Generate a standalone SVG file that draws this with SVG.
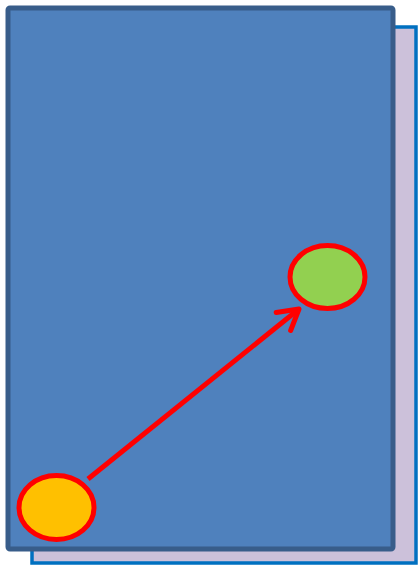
<svg xmlns="http://www.w3.org/2000/svg" width="418" height="566" viewBox="0 0 418 566">
<style>
.node-ellipse{stroke:#FF0000;stroke-width:5}
.conn{stroke:#FF0000;stroke-width:5;fill:none}
</style>
<defs>
<marker id="arrow" markerUnits="userSpaceOnUse" orient="auto" refX="0" refY="0" markerWidth="40" markerHeight="40" viewBox="-30 -20 40 40" overflow="visible">
<path d="M-20,-11.5 L0,0 L-20,11.5" fill="none" stroke="#FF0000" stroke-width="5" stroke-linecap="round" stroke-linejoin="round"/>
</marker>
</defs>
<g id="back-page">
<rect x="32" y="27" width="384" height="536" fill="#CCC1DA" stroke="#0070C0" stroke-width="3.5"/>
</g>
<g id="front-page">
<rect x="8" y="8" width="385" height="541" rx="2" fill="#4F81BD" stroke="#385D8A" stroke-width="5"/>
</g>
<g id="start-node">
<ellipse class="node-ellipse" cx="56.5" cy="507.5" rx="37.5" ry="32" fill="#FFC000"/>
</g>
<g id="end-node">
<ellipse class="node-ellipse" cx="327.5" cy="277" rx="37.5" ry="31.5" fill="#92D050"/>
</g>
<g id="connectors">
<path class="conn" d="M88,479 L299,309" marker-end="url(#arrow)"/>
</g>
</svg>
